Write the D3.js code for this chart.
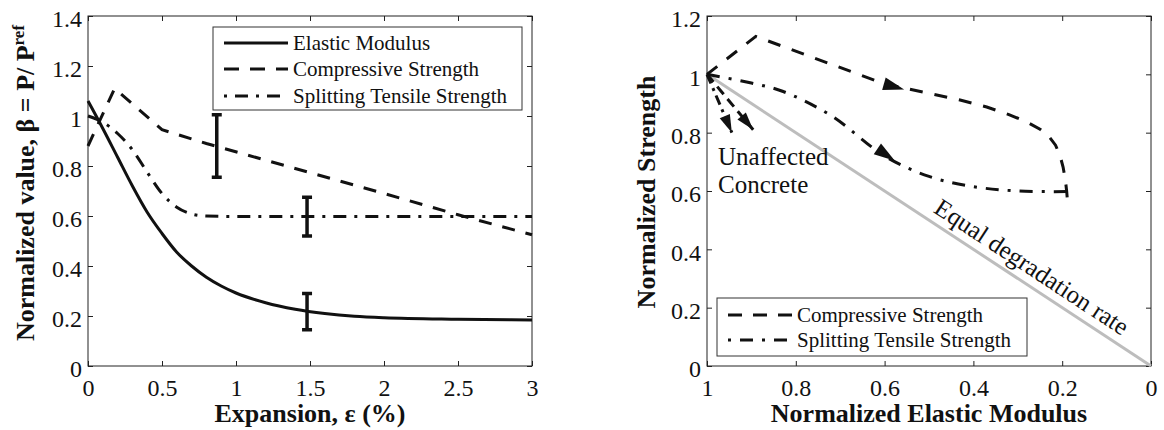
<!DOCTYPE html>
<html>
<head>
<meta charset="utf-8">
<script src="https://cdn.jsdelivr.net/npm/d3@7"></script>
<style>
body{margin:0;background:#fff}
svg text{font-family:"Liberation Serif","DejaVu Serif",serif;fill:#111}
.lab{font-size:26px;font-weight:bold}
.leg{font-size:21px}
.note{font-size:25px}
</style>
</head>
<body>
<svg id="fig" width="1164" height="430"></svg>
<script>
// left panel: normalized value vs expansion
const expTicks = [0, 0.5, 1, 1.5, 2, 2.5, 3];
const expTickLabels = ["0", "0.5", "1", "1.5", "2", "2.5", "3"];
const betaTicks = [0, 0.2, 0.4, 0.6, 0.8, 1, 1.2, 1.4];
const betaTickLabels = ["0", "0.2", "0.4", "0.6", "0.8", "1", "1.2", "1.4"];

const elastic = [[0,1.06],[0.1,0.95],[0.2,0.835],[0.3,0.72],[0.4,0.615],[0.5,0.53],[0.6,0.455],
  [0.7,0.40],[0.8,0.355],[0.9,0.32],[1.0,0.292],[1.2,0.253],[1.4,0.227],[1.6,0.21],[1.8,0.199],
  [2.0,0.193],[2.5,0.187],[3.0,0.184]];
const compressive = [[0,0.88],[0.18,1.11],[0.5,0.945],[0.8,0.89],[1.4,0.79],[2.0,0.69],[2.5,0.605],[3.0,0.525]];
const splitting = [[0,1.0],[0.1,0.975],[0.2,0.93],[0.3,0.865],[0.4,0.775],[0.5,0.69],[0.6,0.635],
  [0.7,0.608],[0.8,0.6],[1.0,0.598],[2.0,0.598],[3.0,0.598]];

const errX = [0.87, 1.48, 1.48];
const errLo = [0.755, 0.52, 0.145];
const errHi = [1.005, 0.675, 0.29];

const leftNames = ["Elastic Modulus", "Compressive Strength", "Splitting Tensile Strength"];

// right panel: normalized strength vs normalized elastic modulus
const modTicks = [1, 0.8, 0.6, 0.4, 0.2, 0];
const modTickLabels = ["1", "0.8", "0.6", "0.4", "0.2", "0"];
const strTicks = [0, 0.2, 0.4, 0.6, 0.8, 1, 1.2];
const strTickLabels = ["0", "0.2", "0.4", "0.6", "0.8", "1", "1.2"];

const compPath = [[1,1],[0.89,1.13],[0.6,0.967],[0.5,0.935],[0.43,0.912],[0.37,0.888],[0.32,0.862],
  [0.28,0.837],[0.25,0.812],[0.23,0.787],[0.215,0.757],[0.205,0.722],[0.198,0.682],[0.193,0.64],
  [0.19,0.6],[0.187,0.545]];
const splitPath = [[1,1],[0.9,0.97],[0.83,0.942],[0.72,0.858],[0.6,0.72],[0.5,0.65],[0.4,0.615],
  [0.3,0.6],[0.187,0.598]];
const compUnaffected = [[1,1],[0.896,0.81]];
const splitUnaffected = [[1,1],[0.944,0.80]];
const equalRate = [[1,1],[0,0]];
// arrows: tail x, tail y, tip x, tip y
const arrows = [[0.605,0.969,0.556,0.948],[0.622,0.75,0.577,0.704],[1,1,0.944,0.80],[1,1,0.896,0.81]];
const arrowSize = [[21,6.5],[21,6.5],[18,5.5],[18,5.5]];

const rightNames = ["Compressive Strength", "Splitting Tensile Strength"];

const svg = d3.select("#fig");
const serif = "Liberation Serif, DejaVu Serif, serif";
const ink = "#111";
const DASH = "13,11";
const DASHDOT = "13,8,3,8";

function frame(box, xs, ys, xt, xl, yt, yl) {
  const g = svg.append("g");
  g.append("g").attr("transform", `translate(0,${box.y1})`)
    .call(d3.axisBottom(xs).tickValues(xt).tickFormat((d, i) => xl[i]).tickSizeInner(-5).tickSizeOuter(0).tickPadding(13));
  g.append("g").attr("transform", `translate(0,${box.y0})`)
    .call(d3.axisTop(xs).tickValues(xt).tickFormat("").tickSizeInner(-5).tickSizeOuter(0));
  g.append("g").attr("transform", `translate(${box.x0},0)`)
    .call(d3.axisLeft(ys).tickValues(yt).tickFormat((d, i) => yl[i]).tickSizeInner(-5).tickSizeOuter(0).tickPadding(6));
  g.append("g").attr("transform", `translate(${box.x1},0)`)
    .call(d3.axisRight(ys).tickValues(yt).tickFormat("").tickSizeInner(-5).tickSizeOuter(0));
  g.selectAll(".domain").remove();
  g.selectAll("g").attr("font-family", serif).attr("font-size", 24);
  g.selectAll(".tick line").attr("stroke", "#222");
  g.selectAll(".tick text").attr("fill", ink);
  g.selectAll("g").filter(function () { return d3.select(this).attr("text-anchor") === "end"; })
    .selectAll(".tick text").attr("dy", "0.45em");
  g.append("rect").attr("x", box.x0).attr("y", box.y0)
    .attr("width", box.x1 - box.x0).attr("height", box.y1 - box.y0)
    .attr("fill", "none").attr("stroke", "#222").attr("stroke-width", 1);
}

function curve(data, xs, ys, dash, c) {
  const line = d3.line().x(d => xs(d[0])).y(d => ys(d[1])).curve(c || d3.curveLinear);
  svg.append("path").datum(data).attr("d", line)
    .attr("fill", "none").attr("stroke", ink).attr("stroke-width", 3)
    .attr("stroke-dasharray", dash);
}

function legend(x, y, w, h, rowY, names, dashes, offsets) {
  svg.append("rect").attr("x", x).attr("y", y).attr("width", w).attr("height", h)
    .attr("fill", "#fff").attr("stroke", "#333").attr("stroke-width", 1);
  names.forEach((n, i) => {
    svg.append("line").attr("x1", x + 11).attr("x2", x + 11 + 64)
      .attr("y1", rowY[i]).attr("y2", rowY[i])
      .attr("stroke", ink).attr("stroke-width", 3)
      .attr("stroke-dasharray", dashes[i]).attr("stroke-dashoffset", offsets[i]);
    svg.append("text").attr("class", "leg").attr("x", x + 80).attr("y", rowY[i] + 7).text(n);
  });
}

// ---- left panel
const L = {x0: 88, x1: 532, y0: 16, y1: 366};
const xL = d3.scaleLinear().domain([0, 3]).range([L.x0, L.x1]);
const yL = d3.scaleLinear().domain([0, 1.4]).range([L.y1, L.y0]);
frame(L, xL, yL, expTicks, expTickLabels, betaTicks, betaTickLabels);

curve(elastic, xL, yL, null, d3.curveMonotoneX);
curve(compressive, xL, yL, DASH);
curve(splitting, xL, yL, DASHDOT, d3.curveMonotoneX);

errX.forEach((x, i) => {
  const px = xL(x);
  svg.append("line").attr("x1", px).attr("x2", px).attr("y1", yL(errLo[i])).attr("y2", yL(errHi[i]))
    .attr("stroke", ink).attr("stroke-width", 3.5);
  [errLo[i], errHi[i]].forEach(v => {
    svg.append("line").attr("x1", px - 5).attr("x2", px + 5).attr("y1", yL(v)).attr("y2", yL(v))
      .attr("stroke", ink).attr("stroke-width", 3.5);
  });
});

legend(213, 27, 309, 83, [43, 69, 96], leftNames, [null, "15,11", DASHDOT], [0, 0, 21]);

svg.append("text").attr("class", "lab").attr("text-anchor", "middle")
  .attr("x", (L.x0 + L.x1) / 2).attr("y", 422).text("Expansion, ε (%)");
const yLab = svg.append("text").attr("class", "lab").attr("text-anchor", "middle")
  .attr("transform", "translate(34,183) rotate(-90)");
yLab.append("tspan").text("Normalized value, β = P/ P");
yLab.append("tspan").attr("font-size", 17).attr("dy", -10).text("ref");

// ---- right panel
const R = {x0: 707, x1: 1151, y0: 16, y1: 366};
const xR = d3.scaleLinear().domain([1, 0]).range([R.x0, R.x1]);
const yR = d3.scaleLinear().domain([0, 1.2]).range([R.y1, R.y0]);
frame(R, xR, yR, modTicks, modTickLabels, strTicks, strTickLabels);

svg.append("path").datum(equalRate)
  .attr("d", d3.line().x(d => xR(d[0])).y(d => yR(d[1])))
  .attr("fill", "none").attr("stroke", "#bdbdbd").attr("stroke-width", 3);

curve(compPath, xR, yR, "13,12");
curve(splitPath, xR, yR, "13,9,3,9", d3.curveCatmullRom.alpha(0.5));
curve(compUnaffected, xR, yR, "10,6");
curve(splitUnaffected, xR, yR, "10,5,3,5");

arrows.forEach((a, i) => {
  const tx = xR(a[2]), ty = yR(a[3]);
  const dx = tx - xR(a[0]), dy = ty - yR(a[1]);
  const len = Math.hypot(dx, dy), ux = dx / len, uy = dy / len;
  const [al, aw] = arrowSize[i];
  const bx = tx - ux * al, by = ty - uy * al;
  svg.append("path")
    .attr("d", `M${tx},${ty}L${bx - uy * aw},${by + ux * aw}L${bx + uy * aw},${by - ux * aw}Z`)
    .attr("fill", ink);
});

legend(717, 298, 310, 58, [315, 340], rightNames, ["14,11", "13,9,3,9"], [0, 22]);

svg.append("text").attr("class", "note").attr("x", 718).attr("y", 165).text("Unaffected");
svg.append("text").attr("class", "note").attr("x", 718).attr("y", 193).text("Concrete");

const ang = Math.atan2(yR(0) - yR(1), xR(0) - xR(1)) * 180 / Math.PI;
const mx = 0.29;
svg.append("text").attr("class", "note").attr("text-anchor", "middle")
  .attr("transform", `translate(${xR(mx)},${yR(mx)}) rotate(${ang}) translate(0,-9)`)
  .text("Equal degradation rate");

svg.append("text").attr("class", "lab").attr("text-anchor", "middle")
  .attr("x", (R.x0 + R.x1) / 2).attr("y", 422).text("Normalized Elastic Modulus");
svg.append("text").attr("class", "lab").attr("text-anchor", "middle")
  .attr("transform", "translate(655,192) rotate(-90)").text("Normalized Strength");
</script>
</body>
</html>
